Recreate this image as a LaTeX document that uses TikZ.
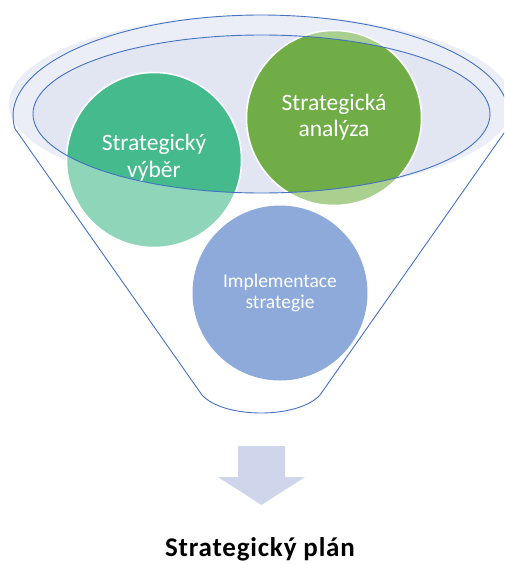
\documentclass[tikz,border=0pt]{standalone}
\usepackage{fontspec}
\setmainfont{Carlito}
\usepackage{tikz}
\usetikzlibrary{calc,positioning}

\definecolor{tealD}{HTML}{45BA8D}
\definecolor{tealL}{HTML}{8ED5B9}
\definecolor{greenD}{HTML}{70AD47}
\definecolor{greenL}{HTML}{A9D08E}
\definecolor{blueC}{HTML}{8EAADB}
\definecolor{rimfill}{HTML}{EBEEF7}
\definecolor{mouthfill}{HTML}{E1E6F2}
\definecolor{funnelline}{HTML}{4472C4}
\definecolor{arrowfill}{HTML}{CFD5EA}

\tikzset{
  bubble/.style={circle, minimum size=175pt, inner sep=0pt, draw=white, line width=1.5pt},
  bubbletext/.style={text=white, align=center, inner sep=0pt},
  funnel/.style={draw=funnelline, line width=0.9pt, line join=round}
}

\begin{document}
\begin{tikzpicture}[x=1pt,y=-1pt]
    \clip (0,0) rectangle (504,565);
    % rim of the funnel
    \fill[rimfill] (261,104) ellipse [x radius=252, y radius=89];
    \fill[mouthfill] (261.5,114) ellipse [x radius=228.5, y radius=79];
    % the three steps
    \node[bubble, fill=tealL] (vyber) at (154,160) {};
    \node[bubble, fill=greenL] (analyza) at (334,118) {};
    \node[bubble, fill=blueC, draw=none] (impl) at (280,293) {};
    \begin{scope}
      \clip (261.5,114) ellipse [x radius=228.5, y radius=79];
      \node[bubble, fill=tealD] at (vyber) {};
      \node[bubble, fill=greenD] at (analyza) {};
    \end{scope}
    \draw[funnel] (261.5,114) ellipse [x radius=228.5, y radius=79];
    \draw[funnel] (261,116) ++(172.7:248 and 101)
      arc [start angle=172.7, end angle=367.3, x radius=248, y radius=101]
      -- (320,395) .. controls (298,419) and (224,419) .. (202,395) -- cycle;
    \node[bubbletext, font=\fontsize{23.5}{27}\selectfont] (vyberlbl) at ([yshift=2]vyber.center) {Strategický\\výběr};
    \node[bubbletext, font=\fontsize{23.5}{26}\selectfont] (analyzalbl) at ([yshift=1]analyza.center) {Strategická\\analýza};
    \node[bubbletext, font=\fontsize{19.5}{21}\selectfont] (impllbl) at (impl.center) {Implementace\\strategie};
    % result
    \fill[arrowfill] (238,446) -- (285,446) -- (285,477) -- (305,477)
      -- (261.5,505) -- (218,477) -- (238,477) -- cycle;
    \node[anchor=base, inner sep=0pt, font=\fontsize{27}{30}\selectfont\bfseries\addfontfeatures{LetterSpace=3}] (plan) at (260,556) {Strategický plán};
\end{tikzpicture}
\end{document}
